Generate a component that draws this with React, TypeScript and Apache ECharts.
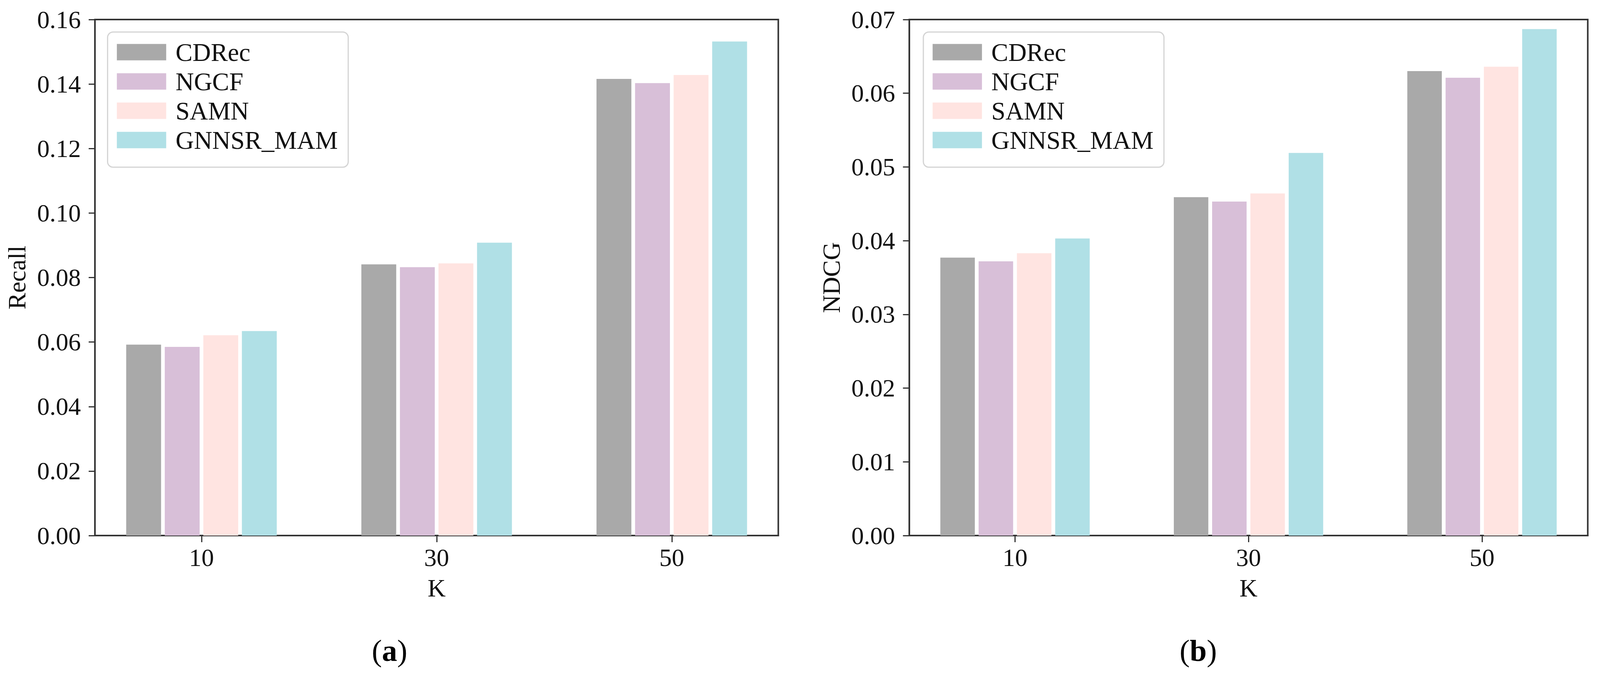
import React, { useEffect, useRef, useState } from 'react';
import * as echarts from 'echarts';

// ---- data ----
const kValues = [10, 30, 50];
const methods = ['CDRec', 'NGCF', 'SAMN', 'GNNSR_MAM'];
const methodColors = ['#a9a9a9', '#d8bfd8', '#ffe4e1', '#b0e0e6'];

const recallCDRec = [0.0592, 0.0841, 0.1416];
const recallNGCF = [0.0585, 0.0832, 0.1403];
const recallSAMN = [0.0621, 0.0844, 0.1428];
const recallGNNSR = [0.0634, 0.0908, 0.1532];

const ndcgCDRec = [0.0377, 0.0459, 0.063];
const ndcgNGCF = [0.0372, 0.0453, 0.0621];
const ndcgSAMN = [0.0383, 0.0464, 0.0636];
const ndcgGNNSR = [0.0403, 0.0519, 0.0687];

const recallSeries = [recallCDRec, recallNGCF, recallSAMN, recallGNNSR];
const ndcgSeries = [ndcgCDRec, ndcgNGCF, ndcgSAMN, ndcgGNNSR];

const FONT = '"Liberation Serif", "Times New Roman", serif';
const TEXT = '#111';
const LINE = '#333';

// layout designed on a 4313 px wide canvas, scaled horizontally to the real viewport
const REF_W = 4313;
const REF_H = 1728;
const panels = [
  { left: 256, width: 1842, legendLeft: 290, captionX: 1050, yName: 'Recall', max: 0.16, interval: 0.02, barWidth: 94, caption: 'a', values: recallSeries },
  { left: 2451, width: 1829, legendLeft: 2489, captionX: 3230, yName: 'NDCG', max: 0.07, interval: 0.01, barWidth: 93, caption: 'b', values: ndcgSeries },
];

const TOP = 50;
const HEIGHT = 1321;
const X_MIN = 0.94;
const X_MAX = 59.06;
const BAR_STEP = 3.28; // spacing between neighbouring bars, in K units

export default function App() {
  const ref = useRef<HTMLDivElement>(null);
  const [W] = useState(() => Math.min(REF_W, window.innerWidth || REF_W));

  useEffect(() => {
    if (!ref.current) return;
    const sx = W / REF_W;
    const chart = echarts.init(ref.current, undefined, { renderer: 'svg' });

    const grids = panels.map((p) => ({
      left: p.left * sx,
      top: TOP,
      width: p.width * sx,
      height: HEIGHT,
      show: true,
      borderColor: LINE,
      borderWidth: 4,
      backgroundColor: 'transparent',
      containLabel: false,
    }));

    const xAxes: any[] = [];
    panels.forEach((p, pi) => {
      methods.forEach((_, mi) => {
        xAxes.push({
          type: 'value',
          gridIndex: pi,
          min: X_MIN,
          max: X_MAX,
          show: mi === 0,
          name: mi === 0 ? 'K' : '',
          nameLocation: 'middle',
          nameGap: 102,
          nameTextStyle: { fontFamily: FONT, fontSize: 64, color: TEXT, lineHeight: 64 },
          axisLine: { show: true, lineStyle: { color: LINE, width: 4 } },
          axisTick: { show: true, customValues: kValues, length: 17, inside: false, lineStyle: { color: LINE, width: 3 } },
          axisLabel: { show: true, customValues: kValues, margin: 24, fontFamily: FONT, fontSize: 64, lineHeight: 64, color: TEXT },
          splitLine: { show: false },
        });
      });
    });

    const yAxes = panels.map((p, pi) => ({
      type: 'value',
      gridIndex: pi,
      min: 0,
      max: p.max,
      interval: p.interval,
      name: p.yName,
      nameLocation: 'middle',
      nameGap: 176 * sx,
      nameTextStyle: { fontFamily: FONT, fontSize: 64, color: TEXT, lineHeight: 64 },
      axisLine: { show: true, lineStyle: { color: LINE, width: 4 } },
      axisTick: { show: true, length: 17 * sx, inside: false, lineStyle: { color: LINE, width: 3 } },
      axisLabel: {
        margin: 38 * sx,
        fontFamily: FONT,
        fontSize: 64,
        lineHeight: 64,
        color: TEXT,
        formatter: (v: number) => v.toFixed(2),
      },
      splitLine: { show: false },
    }));

    const series: any[] = [];
    panels.forEach((p, pi) => {
      methods.forEach((name, mi) => {
        series.push({
          type: 'bar',
          name,
          xAxisIndex: pi * 4 + mi,
          yAxisIndex: pi,
          barWidth: p.barWidth * sx,
          itemStyle: { color: methodColors[mi] },
          data: kValues.map((k, i) => [k + (mi - 1.5) * BAR_STEP, p.values[mi][i]]),
        });
      });
    });

    const legends = panels.map((p) => ({
      orient: 'vertical',
      left: p.legendLeft * sx,
      top: 82,
      data: methods,
      icon: 'rect',
      itemWidth: 133 * sx,
      itemHeight: 42,
      itemGap: 10,
      padding: [19, 28 * sx, 37, 25 * sx],
      backgroundColor: 'rgba(255,255,255,0.85)',
      borderColor: '#d4d4d4',
      borderWidth: 3,
      borderRadius: 14,
      selectedMode: false,
      textStyle: { fontFamily: FONT, fontSize: 65, lineHeight: 65, color: TEXT, padding: [0, 0, 0, 20 * sx] },
    }));

    const graphic: any[] = panels.map((p) => ({
      type: 'text',
      x: p.captionX * sx,
      y: 1665,
      style: {
        text: `({b|${p.caption}})`,
        rich: { b: { fontWeight: 'bold', fontFamily: FONT, fontSize: 78, fill: '#000' } },
        fontFamily: FONT,
        fontSize: 78,
        fill: '#000',
        align: 'center',
        verticalAlign: 'middle',
        textAlign: 'center',
        textVerticalAlign: 'middle',
      },
    }));

    chart.setOption({
      animation: false,
      backgroundColor: '#ffffff',
      grid: grids,
      xAxis: xAxes,
      yAxis: yAxes,
      legend: legends,
      series,
      graphic,
    });

    return () => chart.dispose();
  }, [W]);

  return (
    <div
      ref={ref}
      style={{ position: 'absolute', left: 0, top: 0, width: W, height: REF_H, background: '#fff' }}
    />
  );
}
